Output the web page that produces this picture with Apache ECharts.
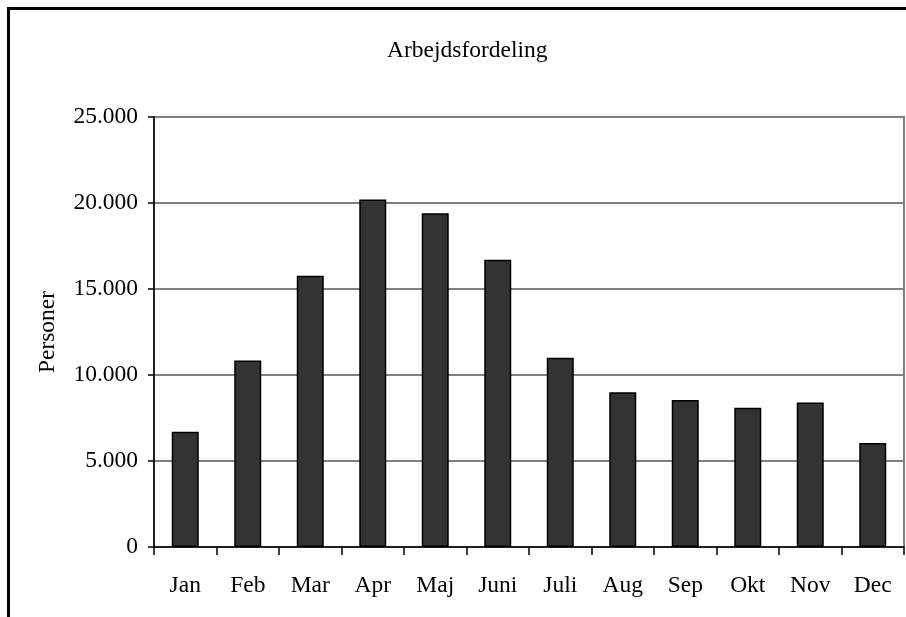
<!DOCTYPE html>
<html>
<head>
<meta charset="utf-8">
<script src="https://cdn.jsdelivr.net/npm/echarts@6/dist/echarts.min.js"></script>
<style>
  html, body { margin: 0; padding: 0; background: #fff; }
  #chart { width: 906px; height: 617px; }
</style>
</head>
<body>
<div id="chart"></div>
<script>
const months = ["Jan", "Feb", "Mar", "Apr", "Maj", "Juni", "Juli", "Aug", "Sep", "Okt", "Nov", "Dec"];
const personer = [6700, 10850, 15770, 20200, 19400, 16700, 11000, 9000, 8550, 8100, 8400, 6050];
const yTicks = { min: 0, max: 25000, interval: 5000 };

const font = "'Liberation Serif', 'DejaVu Serif', serif";
const fs = 23.5;

// 25000 -> "25.000"
const fmtDK = (v) => String(v).replace(/\B(?=(\d{3})+(?!\d))/g, ".");

const chart = echarts.init(document.getElementById("chart"));

chart.setOption({
  animation: false,
  backgroundColor: "#fff",
  textStyle: { fontFamily: font, color: "#000" },
  title: {
    text: "Arbejdsfordeling",
    left: 382,
    top: 34,
    textStyle: { fontFamily: font, fontSize: fs, fontWeight: "normal", color: "#000" },
  },
  // frame around the chart (only top/left are visible in the picture)
  graphic: [
    {
      type: "rect",
      left: 6,
      top: 6,
      shape: { width: 1200, height: 1200 },
      style: { fill: "none", stroke: "#000", lineWidth: 3 },
      silent: true,
    },
  ],
  grid: {
    left: 154,
    right: 2,
    top: 117,
    bottom: 70,
    show: true,
    borderColor: "#808080",
    borderWidth: 2,
  },
  xAxis: {
    type: "category",
    data: months,
    boundaryGap: true,
    axisLine: { lineStyle: { color: "#000", width: 1.5 } },
    axisTick: { show: true, alignWithLabel: false, length: 8, lineStyle: { color: "#000", width: 1.5 } },
    axisLabel: { fontFamily: font, fontSize: fs, color: "#000", margin: 27 },
  },
  yAxis: {
    type: "value",
    min: yTicks.min,
    max: yTicks.max,
    interval: yTicks.interval,
    name: "Personer",
    nameLocation: "middle",
    nameRotate: 90,
    nameGap: 94,
    nameTextStyle: { fontFamily: font, fontSize: fs, color: "#000" },
    axisLine: { show: true, lineStyle: { color: "#000", width: 1.5 } },
    axisTick: { show: true, length: 6, lineStyle: { color: "#000", width: 1.5 } },
    axisLabel: { fontFamily: font, fontSize: fs, color: "#000", margin: 16, formatter: fmtDK },
    splitLine: { show: true, lineStyle: { color: "#808080", width: 2 } },
  },
  series: [
    {
      type: "bar",
      data: personer,
      barWidth: 27,
      itemStyle: { color: "#333333", borderColor: "#000", borderWidth: 1.5 },
    },
  ],
});
</script>
</body>
</html>
